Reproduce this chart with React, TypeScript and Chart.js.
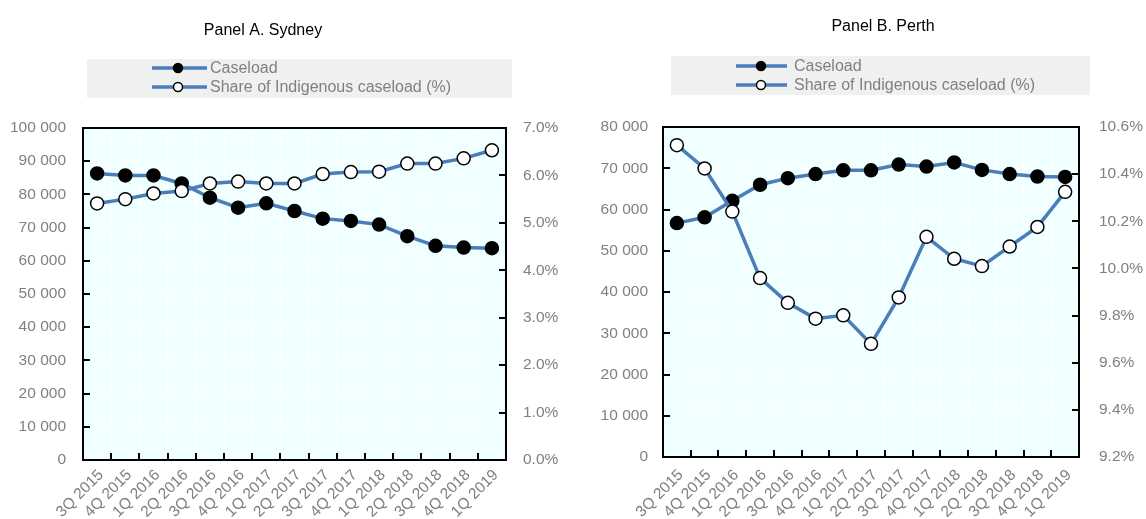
import React, { useEffect, useRef } from "react";
import { Chart, registerables } from "chart.js";

Chart.register(...registerables);

// ---------- data ----------
const quarters = [
  "3Q 2015", "4Q 2015", "1Q 2016", "2Q 2016", "3Q 2016", "4Q 2016", "1Q 2017", "2Q 2017",
  "3Q 2017", "4Q 2017", "1Q 2018", "2Q 2018", "3Q 2018", "4Q 2018", "1Q 2019",
];

const sydneyCaseload = [86300, 85700, 85700, 83300, 79000, 76000, 77300, 75000, 72700, 72000, 70900, 67400, 64500, 64000, 63800];
const sydneyShare = [5.41, 5.5, 5.62, 5.67, 5.83, 5.87, 5.83, 5.83, 6.03, 6.07, 6.08, 6.25, 6.25, 6.36, 6.53];

const perthCaseload = [56700, 58100, 62100, 66000, 67600, 68600, 69500, 69500, 70900, 70400, 71400, 69600, 68600, 68000, 67900];
const perthShare = [10.523, 10.424, 10.241, 9.959, 9.854, 9.787, 9.801, 9.68, 9.877, 10.134, 10.041, 10.01, 10.093, 10.176, 10.325];

const seriesNames = ["Caseload", "Share of Indigenous caseload (%)"];

// axis ranges [min, max, step]
const sydneyLeftAxis = [0, 100000, 10000];
const sydneyRightAxis = [0, 7, 1];
const perthLeftAxis = [0, 80000, 10000];
const perthRightAxis = [9.2, 10.6, 0.2];

// ---------- style ----------
const FONT = "'Liberation Sans', Arial, sans-serif";
const LINE = "#4A7EBB";
const GREY = "#808080";
const PLOT_BG = "#F0FFFF";

const fmtThousands = (v: number) =>
  String(Math.round(v)).replace(/\B(?=(\d{3})+(?!\d))/g, " ");

const decor = {
  id: "decor",
  beforeDraw(chart: any) {
    const { ctx, chartArea: a } = chart;
    ctx.save();
    ctx.fillStyle = PLOT_BG;
    ctx.fillRect(a.left, a.top, a.right - a.left, a.bottom - a.top);
    ctx.restore();
  },
  beforeDatasetsDraw(chart: any) {
    const { ctx, chartArea: a, scales } = chart;
    ctx.save();
    ctx.strokeStyle = "#000";
    ctx.lineWidth = 2;
    ctx.strokeRect(a.left, a.top, a.right - a.left, a.bottom - a.top);
    const T = 7;
    ctx.beginPath();
    scales.y.ticks.forEach((t: any) => {
      const y = Math.round(scales.y.getPixelForValue(t.value));
      ctx.moveTo(a.left, y);
      ctx.lineTo(a.left + T, y);
    });
    scales.y1.ticks.forEach((t: any) => {
      const y = Math.round(scales.y1.getPixelForValue(t.value));
      ctx.moveTo(a.right, y);
      ctx.lineTo(a.right - T, y);
    });
    const n = chart.data.labels.length;
    for (let i = 1; i < n; i++) {
      const x = Math.round(a.left + ((a.right - a.left) * i) / n);
      ctx.moveTo(x, a.bottom);
      ctx.lineTo(x, a.bottom - T);
    }
    ctx.stroke();
    ctx.restore();
  },
  afterDraw(chart: any, _a: any, o: any) {
    const { ctx } = chart;
    ctx.save();
    // title
    ctx.fillStyle = "#000";
    ctx.font = `16px ${FONT}`;
    ctx.textAlign = "center";
    ctx.textBaseline = "alphabetic";
    ctx.fillText(o.title, o.titleX, o.titleY);
    // legend box
    const [bx, by, bw, bh] = o.box;
    ctx.fillStyle = "#F0F0F0";
    ctx.fillRect(bx, by, bw, bh);
    chart.data.datasets.forEach((ds: any, i: number) => {
      const y = o.rows[i];
      ctx.strokeStyle = LINE;
      ctx.lineWidth = 3.5;
      ctx.beginPath();
      ctx.moveTo(o.line[0], y);
      ctx.lineTo(o.line[1], y);
      ctx.stroke();
      ctx.beginPath();
      ctx.arc(o.markerX, y, 4.5, 0, Math.PI * 2);
      ctx.fillStyle = ds.pointBackgroundColor;
      ctx.fill();
      ctx.lineWidth = 1.5;
      ctx.strokeStyle = "#000";
      ctx.stroke();
      ctx.fillStyle = GREY;
      ctx.font = `16px ${FONT}`;
      ctx.textAlign = "left";
      ctx.textBaseline = "middle";
      ctx.fillText(ds.label, o.textX, y + 1);
    });
    ctx.restore();
  },
};

type PanelCfg = {
  offsetX: number;
  title: string;
  titleX: number;
  titleY: number;
  box: number[];
  line: number[];
  markerX: number;
  textX: number;
  rows: number[];
  area: { left: number; top: number; right: number; bottom: number };
  caseload: number[];
  share: number[];
  leftAxis: number[];
  rightAxis: number[];
  rightDecimals: number;
  leftPad: number;
  rightPad: number;
  xPad: number;
};

const W = 573;
const H = 519;

const panels: PanelCfg[] = [
  {
    offsetX: 0,
    title: "Panel A. Sydney",
    titleX: 263,
    titleY: 35,
    box: [87, 59, 425, 39],
    line: [152, 207],
    markerX: 178,
    textX: 210,
    rows: [68, 87],
    area: { left: 83, top: 128, right: 506, bottom: 460 },
    caseload: sydneyCaseload,
    share: sydneyShare,
    leftAxis: sydneyLeftAxis,
    rightAxis: sydneyRightAxis,
    rightDecimals: 1,
    leftPad: 17,
    rightPad: 17,
    xPad: 6,
  },
  {
    offsetX: 573,
    title: "Panel B. Perth",
    titleX: 310,
    titleY: 31,
    box: [98, 56, 419, 39],
    line: [163, 214],
    markerX: 188,
    textX: 221,
    rows: [66, 85],
    area: { left: 90, top: 127, right: 506, bottom: 457 },
    caseload: perthCaseload,
    share: perthShare,
    leftAxis: perthLeftAxis,
    rightAxis: perthRightAxis,
    rightDecimals: 1,
    leftPad: 15,
    rightPad: 20,
    xPad: 9,
  },
];

function Panel({ cfg }: { cfg: PanelCfg }) {
  const ref = useRef<HTMLCanvasElement>(null);
  useEffect(() => {
    const a = cfg.area;
    const tickFont = { family: FONT, size: 15.5 };
    const chart = new Chart(ref.current as HTMLCanvasElement, {
      type: "line",
      data: {
        labels: quarters,
        datasets: [
          {
            label: seriesNames[0],
            data: cfg.caseload,
            yAxisID: "y",
            order: 1,
            borderColor: LINE,
            borderWidth: 3.5,
            pointRadius: 6.5,
            pointBackgroundColor: "#000",
            pointBorderColor: "#000",
            pointBorderWidth: 1.5,
            tension: 0,
          },
          {
            label: seriesNames[1],
            data: cfg.share,
            yAxisID: "y1",
            order: 0,
            borderColor: LINE,
            borderWidth: 3.5,
            pointRadius: 6.5,
            pointBackgroundColor: "#fff",
            pointBorderColor: "#000",
            pointBorderWidth: 1.5,
            tension: 0,
          },
        ],
      },
      options: {
        animation: false,
        responsive: false,
        devicePixelRatio: 1,
        layout: { padding: { top: a.top, left: 0, right: 0, bottom: 0 } },
        plugins: {
          legend: { display: false },
          title: { display: false },
          tooltip: { enabled: false },
          decor: {
            title: cfg.title,
            titleX: cfg.titleX,
            titleY: cfg.titleY,
            box: cfg.box,
            line: cfg.line,
            markerX: cfg.markerX,
            textX: cfg.textX,
            rows: cfg.rows,
          },
        } as any,
        scales: {
          x: {
            type: "category",
            offset: true,
            grid: { color: "#FFFFFF", lineWidth: 1, offset: true, drawTicks: false },
            border: { display: false },
            ticks: {
              color: GREY,
              font: tickFont,
              minRotation: 45,
              maxRotation: 45,
              autoSkip: false,
              padding: cfg.xPad,
              labelOffset: 4,
            },
            afterFit: (s: any) => {
              s.height = H - a.bottom;
            },
          },
          y: {
            position: "left",
            min: cfg.leftAxis[0],
            max: cfg.leftAxis[1],
            grid: { color: "#FFFFFF", lineWidth: 1, drawTicks: false },
            border: { display: false },
            ticks: {
              stepSize: cfg.leftAxis[2],
              color: GREY,
              font: tickFont,
              padding: cfg.leftPad,
              callback: (v: any) => fmtThousands(Number(v)),
            },
            afterFit: (s: any) => {
              s.width = a.left;
            },
          },
          y1: {
            position: "right",
            min: cfg.rightAxis[0],
            max: cfg.rightAxis[1],
            grid: { display: false, drawTicks: false },
            border: { display: false },
            ticks: {
              stepSize: cfg.rightAxis[2],
              color: GREY,
              font: tickFont,
              padding: cfg.rightPad,
              callback: (v: any) => Number(v).toFixed(cfg.rightDecimals) + "%",
            },
            afterFit: (s: any) => {
              s.width = W - a.right;
            },
          },
        },
      },
      plugins: [decor as any],
    });
    return () => chart.destroy();
  }, [cfg]);
  return (
    <canvas
      ref={ref}
      width={W}
      height={H}
      style={{ position: "absolute", left: cfg.offsetX, top: 0, width: W, height: H }}
    />
  );
}

export default function App() {
  return (
    <div
      style={{
        position: "fixed",
        left: 0,
        top: 0,
        width: 1146,
        height: 519,
        background: "#fff",
        overflow: "hidden",
      }}
    >
      {panels.map((p) => (
        <Panel key={p.title} cfg={p} />
      ))}
    </div>
  );
}
